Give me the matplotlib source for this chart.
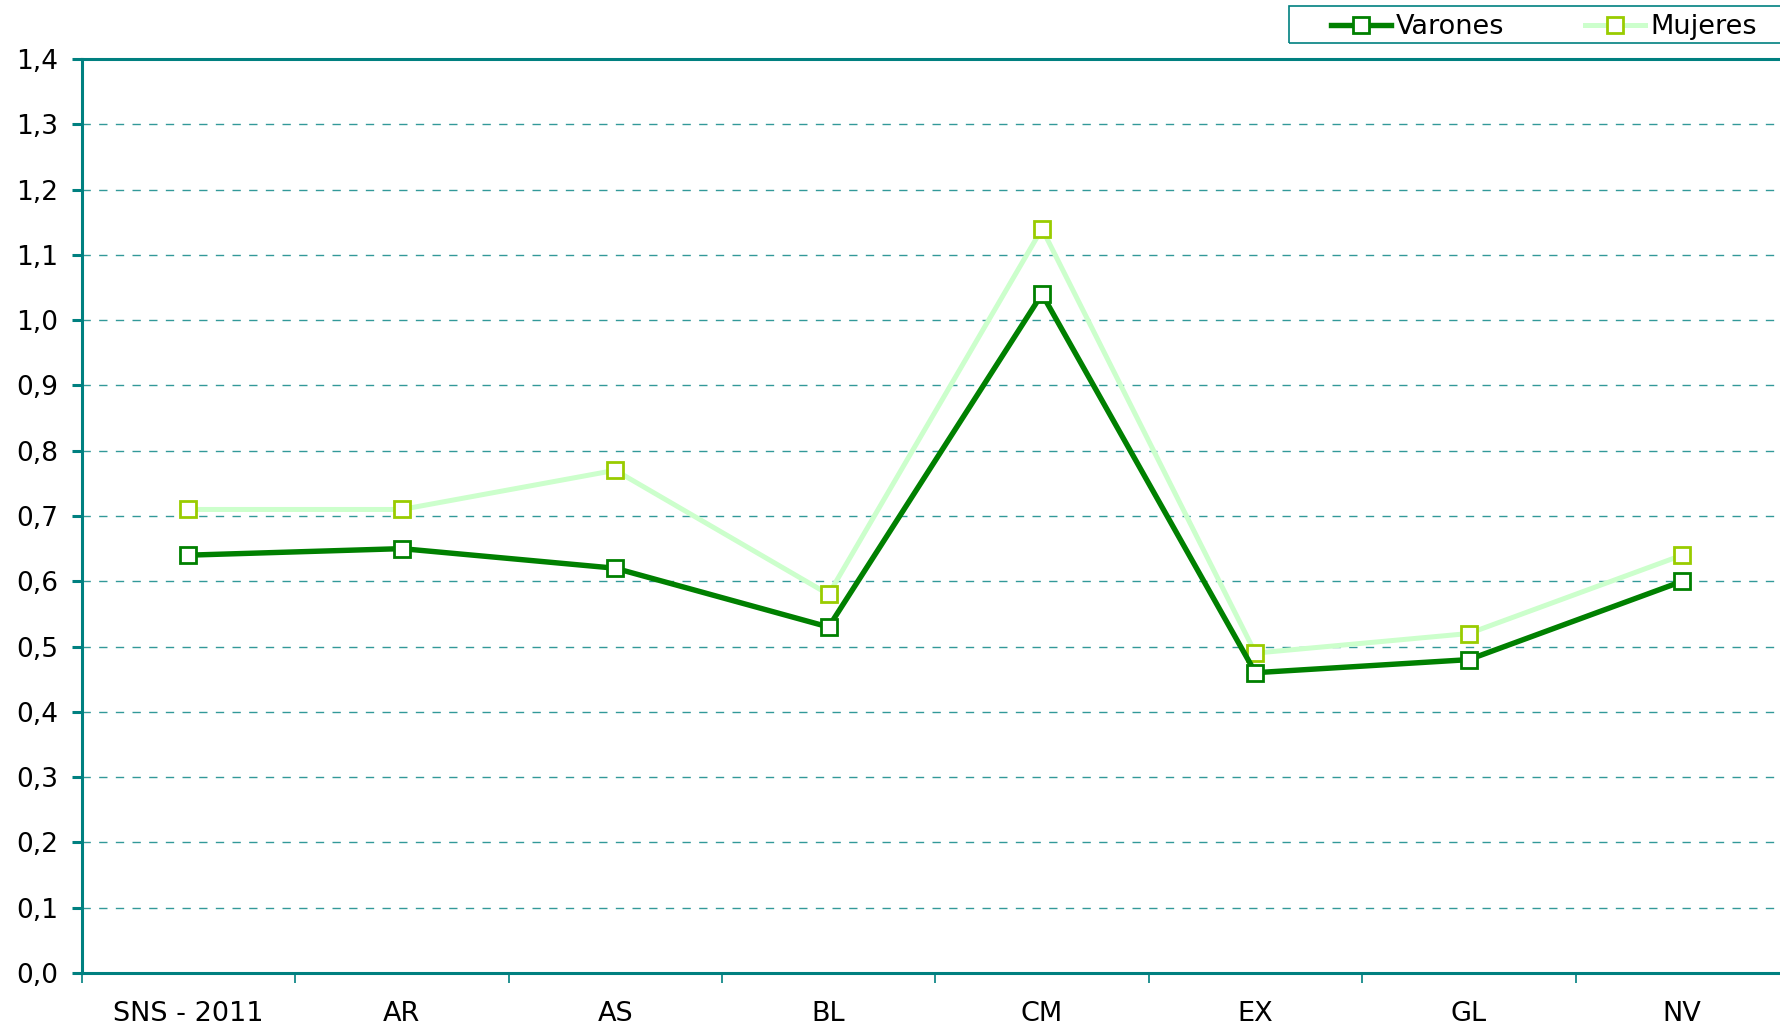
import matplotlib
matplotlib.use("Agg")
import matplotlib.pyplot as plt
from matplotlib.patches import Rectangle
import numpy as np

# data
regions = ["SNS - 2011", "AR", "AS", "BL", "CM", "EX", "GL", "NV"]
varones = [0.64, 0.65, 0.62, 0.53, 1.04, 0.46, 0.48, 0.60]
mujeres = [0.71, 0.71, 0.77, 0.58, 1.14, 0.49, 0.52, 0.64]
y_ticks = [0.0, 0.1, 0.2, 0.3, 0.4, 0.5, 0.6, 0.7, 0.8, 0.9, 1.0, 1.1, 1.2, 1.3, 1.4]

TEAL = "#008080"
DARK_GREEN = "#008000"
LIGHT_GREEN = "#CCFFCC"
LIME_EDGE = "#99CC00"

plt.rcParams["font.family"] = ["DejaVu Sans"]

fig = plt.figure(figsize=(17.8, 10.29), dpi=100)
ax = fig.add_axes([0.0459, 0.0544, 0.9591, 0.8883])

x = np.arange(len(regions))

ax.plot(x, mujeres, color=LIGHT_GREEN, lw=3.6, marker="s", ms=11.5,
        mfc="white", mec=LIME_EDGE, mew=2.0, label="Mujeres", zorder=3)
ax.plot(x, varones, color=DARK_GREEN, lw=3.9, marker="s", ms=11.5,
        mfc="white", mec=DARK_GREEN, mew=2.0, label="Varones", zorder=4)

ax.set_xlim(-0.5, len(regions) - 0.5)
ax.set_ylim(0, 1.4)

ax.set_yticks(y_ticks)
ax.set_yticklabels([f"{v:.1f}".replace(".", ",") for v in y_ticks])
ax.set_xticks(x)
ax.set_xticklabels(regions)
ax.set_xticks(np.arange(len(regions) + 1) - 0.5, minor=True)

ax.tick_params(axis="y", direction="out", length=7, width=2.2, color=TEAL,
               labelsize=19, pad=10)
ax.tick_params(axis="x", which="major", length=0, labelsize=19.5, pad=20)
ax.tick_params(axis="x", which="minor", direction="out", length=7,
               width=1.2, color=TEAL)

for t in y_ticks[1:-1]:
    ax.axhline(t, color=TEAL, lw=1.0, ls=(0, (6, 6)), alpha=0.8, zorder=1)

for side in ["left", "top", "bottom"]:
    ax.spines[side].set_color(TEAL)
    ax.spines[side].set_linewidth(2.2)
ax.spines["right"].set_visible(False)

# legend box runs off the right edge, so the frame is drawn by hand
fig.patches.append(Rectangle((1289 / 1780, 1 - 43 / 1029), 0.3, 37 / 1029,
                             transform=fig.transFigure, fill=False,
                             edgecolor=TEAL, lw=1.2))
handles, labels = ax.get_legend_handles_labels()
fig.legend(handles[::-1], labels[::-1], loc="center left",
           bbox_to_anchor=(1331 / 1780, 1 - 27 / 1029), ncol=2,
           fontsize=19.5, frameon=False, handlelength=2.2,
           handletextpad=0.19, columnspacing=3.0,
           borderpad=0, borderaxespad=0)

fig.savefig("out.png", dpi=100)
